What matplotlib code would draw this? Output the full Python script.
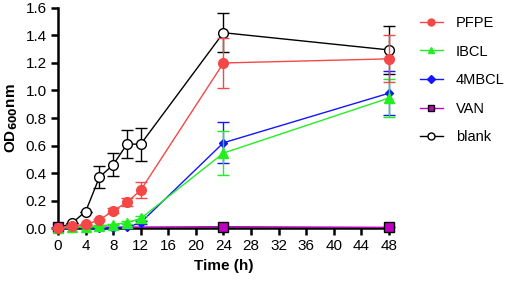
import matplotlib.pyplot as plt
from matplotlib.lines import Line2D
import numpy as np

plt.rcParams['font.family'] = ['Liberation Sans', 'DejaVu Sans']

time = [0, 2, 4, 6, 8, 10, 12, 24, 48]
series = ['PFPE', 'IBCL', '4MBCL', 'VAN', 'blank']
pfpe = [0.0, 0.015, 0.027, 0.058, 0.126, 0.187, 0.276, 1.20, 1.23]
pfpe_err = [0.0, 0.005, 0.005, 0.008, 0.02, 0.03, 0.06, 0.18, 0.17]
ibcl = [0.0, 0.005, 0.01, 0.015, 0.025, 0.04, 0.07, 0.545, 0.945]
ibcl_err = [0.0, 0.0, 0.0, 0.005, 0.005, 0.01, 0.015, 0.16, 0.14]
mbcl = [0.0, 0.0, 0.005, 0.0, 0.0, 0.005, 0.04, 0.62, 0.98]
mbcl_err = [0.0, 0.0, 0.0, 0.0, 0.0, 0.005, 0.01, 0.15, 0.16]
van_time = [0, 24, 48]
van = [0.005, 0.01, 0.005]
van_err = [0.0, 0.0, 0.0]
blank = [0.0, 0.036, 0.12, 0.37, 0.46, 0.61, 0.61, 1.42, 1.295]
blank_err = [0.0, 0.0, 0.0, 0.08, 0.085, 0.1, 0.12, 0.14, 0.175]

fig = plt.figure(figsize=(5.05, 2.84), dpi=100)
ax = fig.add_axes([0.115, 0.197, 0.655, 0.775])

styles = {
    'PFPE': dict(color='#f44848', marker='o', mfc='#f44848', mec='#f44848'),
    'IBCL': dict(color='#22ee22', marker='^', mfc='#22ee22', mec='#22ee22'),
    '4MBCL': dict(color='#1515ff', marker='D', mfc='#1515ff', mec='#1515ff'),
    'VAN': dict(color='#c000c0', marker='s', mfc='#c000c0', mec='black'),
    'blank': dict(color='black', marker='o', mfc='white', mec='black'),
}
sizes = {'PFPE': 7, 'IBCL': 6.5, '4MBCL': 4.5, 'VAN': 6.5, 'blank': 7}
data = {'PFPE': (time, pfpe, pfpe_err), 'IBCL': (time, ibcl, ibcl_err),
        '4MBCL': (time, mbcl, mbcl_err), 'VAN': (van_time, van, van_err),
        'blank': (time, blank, blank_err)}

for z, name in enumerate(['blank', 'VAN', '4MBCL', 'IBCL', 'PFPE']):
    x, y, e = data[name]
    ax.errorbar(x, y, yerr=e, lw=1, capsize=4, capthick=1, elinewidth=1,
                ecolor=styles[name]['color'], ms=sizes[name],
                clip_on=False, zorder=3 + z, **styles[name])

ax.set_xlim(0, 48)
ax.set_ylim(0, 1.6)
ax.set_xticks(np.arange(0, 49, 4))
yt = np.arange(0, 1.61, 0.2)
ax.set_yticks(yt)
ax.set_yticklabels([f'{v:.1f}' for v in yt])
for s in ['top', 'right']:
    ax.spines[s].set_visible(False)
for s in ['left', 'bottom']:
    ax.spines[s].set_linewidth(1.8)
ax.tick_params(width=1.8, length=5, labelsize=11, direction='out', pad=3)
ax.set_xlabel('Time (h)', fontsize=11, fontweight='bold', labelpad=4)
ax.set_ylabel('OD$_{\\mathbf{600}}$nm', fontsize=11, fontweight='bold', labelpad=4)

handles = [Line2D([], [], lw=1, ms=5 if n != '4MBCL' else 4, **styles[n]) for n in series]
ax.legend(handles, series, loc='upper left',
          bbox_to_anchor=(0.805, 0.99), bbox_transform=fig.transFigure,
          frameon=False, fontsize=10.5, handlelength=1.6, handletextpad=0.9,
          labelspacing=1.0)

fig.savefig('out.png', dpi=100)
